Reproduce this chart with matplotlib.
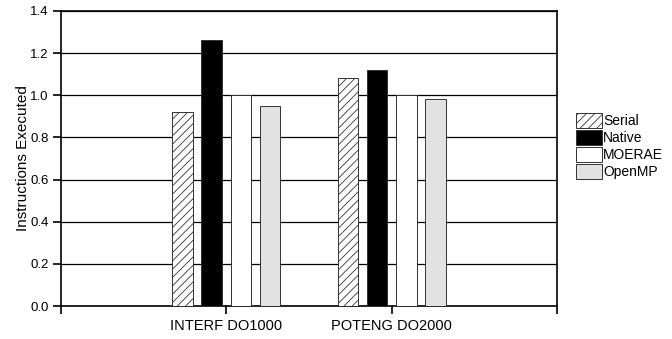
import numpy as np
import matplotlib
matplotlib.use('Agg')
import matplotlib.pyplot as plt

plt.rcParams['font.family'] = ['Liberation Sans', 'DejaVu Sans']
plt.rcParams['hatch.color'] = '#555555'
plt.rcParams['hatch.linewidth'] = 0.6

# 数据
loops = ['INTERF DO1000', 'POTENG DO2000']
series = ['Serial', 'Native', 'MOERAE', 'OpenMP']
serial = [0.92, 1.08]
native = [1.26, 1.12]
moerae = [1.0, 1.0]
openmp = [0.95, 0.98]

values = [serial, native, moerae, openmp]
faces = ['white', 'black', 'white', '#e2e2e2']
hatches = ['////', None, None, None]

fig = plt.figure(figsize=(6.72, 3.39), dpi=100)
ax = fig.add_axes([0.0908, 0.0973, 0.738, 0.8703])

x = np.arange(1, len(loops) + 1)
step = 0.176
width = 0.125
for i, (vals, fc, h, name) in enumerate(zip(values, faces, hatches, series)):
    ax.bar(x + (i - 1.5) * step, vals, width, color=fc, hatch=h,
           edgecolor='#333333', linewidth=0.7, label=name, zorder=3)

ax.set_xlim(0, 3)
ax.set_ylim(0, 1.4)
ax.set_yticks(np.arange(0, 1.41, 0.2))
ax.set_yticklabels(['%.1f' % v for v in np.arange(0, 1.41, 0.2)], fontsize=9.5)
ax.set_xticks([0, 1, 2, 3])
ax.set_xticklabels(['', loops[0], loops[1], ''], fontsize=10.5)
ax.tick_params(axis='both', direction='out', length=6, width=1.2, pad=3)
ax.grid(axis='y', color='black', linewidth=0.9, zorder=0)
for s in ax.spines.values():
    s.set_linewidth(1.2)
ax.set_ylabel('Instructions Executed', fontsize=11, labelpad=0)

ax.legend(loc='upper left', bbox_to_anchor=(0.857, 0.667),
          bbox_transform=fig.transFigure, frameon=False, fontsize=10,
          handlelength=1.87, handleheight=1.3, labelspacing=0.12,
          handletextpad=0.1, borderpad=0, borderaxespad=0)

fig.savefig('out.png', dpi=100)
